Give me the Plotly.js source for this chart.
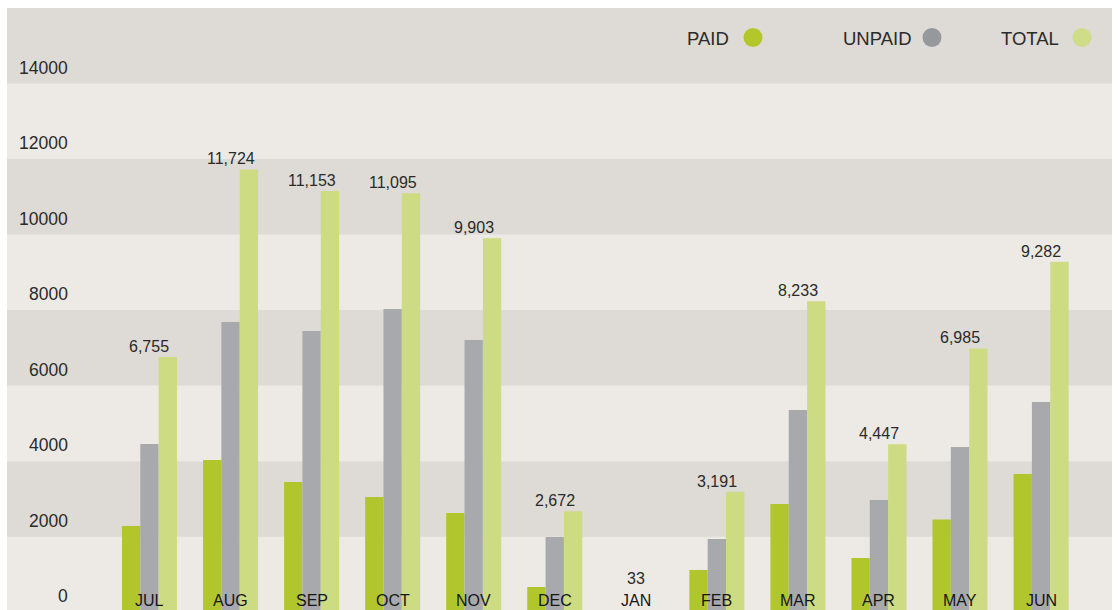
<!DOCTYPE html>
<html>
<head>
<meta charset="utf-8">
<script src="https://cdn.plot.ly/plotly-3.0.1.min.js"></script>
<style>html,body{margin:0;padding:0;background:#fff;}#chart{width:1118px;height:610px;}</style>
</head>
<body>
<div id="chart"></div>
<script>
var months = ["JUL","AUG","SEP","OCT","NOV","DEC","JAN","FEB","MAR","APR","MAY","JUN"];
var paid   = [2283, 4032, 3449, 3052, 2628, 668, 0, 1118, 2866, 1436, 2456, 3661];
var unpaid = [4456, 7687, 7449, 8032, 7211, 1992, 33, 1939, 5356, 2972, 4376, 5568];
var total  = [6755, 11724, 11153, 11095, 9903, 2672, 33, 3191, 8233, 4447, 6985, 9282];
var seriesNames = ["PAID","UNPAID","TOTAL"];
var yTicks = [0, 2000, 4000, 6000, 8000, 10000, 12000, 14000];

var barColors = ["#b1c62c", "#a8a9ad", "#cddb82"];
var legendDot = ["#b3c72b", "#97989c", "#cfdc88"];
var font = "Liberation Sans, Arial, Helvetica, sans-serif";

var traces = [paid, unpaid, total].map(function (vals, i) {
  return {
    type: "bar", x: months, y: vals, name: seriesNames[i],
    marker: {color: barColors[i], line: {width: 0}},
    showlegend: false, hoverinfo: "x+y+name"
  };
});

var W = 1118, H = 610, L = 7, R = 6, T = 8, B = 0;
var Y0 = 58, Y1 = 16000;
var pw = W - L - R, ph = H - T - B;
function px(x) { return (x - L) / pw; }
function py(y) { return (H - B - y) / ph; }
function vy(v) { return (v - Y0) / (Y1 - Y0); }   // data value -> paper fraction

var shapes = [];
// alternating background bands every 2000
for (var v = 0; v < 16000; v += 2000) {
  shapes.push({
    type: "rect", xref: "paper", yref: "y", x0: 0, x1: 1, y0: v, y1: v + 2000,
    fillcolor: ((v / 2000) % 2 === 0) ? "#edeae6" : "#dedad5",
    line: {width: 0}, layer: "below"
  });
}

var annotations = [];
// y tick labels
yTicks.forEach(function (t) {
  annotations.push({
    xref: "paper", yref: "paper", x: px(70), y: vy(t), xanchor: "right", yanchor: "middle",
    yshift: 16, text: String(t), showarrow: false,
    font: {family: font, size: 17.5, color: "#2a2a2a"}
  });
});
// month labels
months.forEach(function (m) {
  annotations.push({
    xref: "x", yref: "paper", x: m, y: 0, xanchor: "center", yanchor: "bottom",
    yshift: -1, text: m, showarrow: false,
    font: {family: font, size: 16, color: "#161616"}
  });
});
// total value labels
total.forEach(function (t, i) {
  annotations.push({
    xref: "x", yref: "paper", x: months[i], y: vy(t), xanchor: "center", yanchor: "bottom",
    yshift: t < 500 ? 22 : 0,
    text: t.toLocaleString("en-US"), showarrow: false,
    font: {family: font, size: 16, color: "#2a2a2a"}
  });
});
// legend
var legTextRight = [731, 914, 1061];
var legDotX = [753, 932, 1082];
seriesNames.forEach(function (n, i) {
  annotations.push({
    xref: "paper", yref: "paper", x: px(legTextRight[i]), y: py(38.5),
    xanchor: "right", yanchor: "middle", text: n, showarrow: false,
    font: {family: font, size: 18.5, color: "#2a2a2a"}
  });
  shapes.push({
    type: "circle", xref: "paper", yref: "paper",
    xsizemode: "pixel", ysizemode: "pixel",
    xanchor: px(legDotX[i]), yanchor: py(37.5),
    x0: -9.5, x1: 9.5, y0: -9.5, y1: 9.5,
    fillcolor: legendDot[i], line: {width: 0}
  });
});

var layout = {
  width: W, height: H,
  margin: {l: L, r: R, t: T, b: B, pad: 0},
  paper_bgcolor: "#ffffff", plot_bgcolor: "#edeae6",
  barmode: "group", bargap: 0.321, bargroupgap: 0,
  showlegend: false,
  xaxis: {
    type: "category", range: [-1.758, 11.875], showticklabels: false,
    showgrid: false, zeroline: false, showline: false, ticks: "", fixedrange: true
  },
  yaxis: {
    range: [Y0, Y1], showticklabels: false, showgrid: false,
    zeroline: false, showline: false, ticks: "", fixedrange: true
  },
  shapes: shapes,
  annotations: annotations,
  font: {family: font}
};

Plotly.newPlot("chart", traces, layout, {displayModeBar: false, staticPlot: true});
</script>
</body>
</html>
